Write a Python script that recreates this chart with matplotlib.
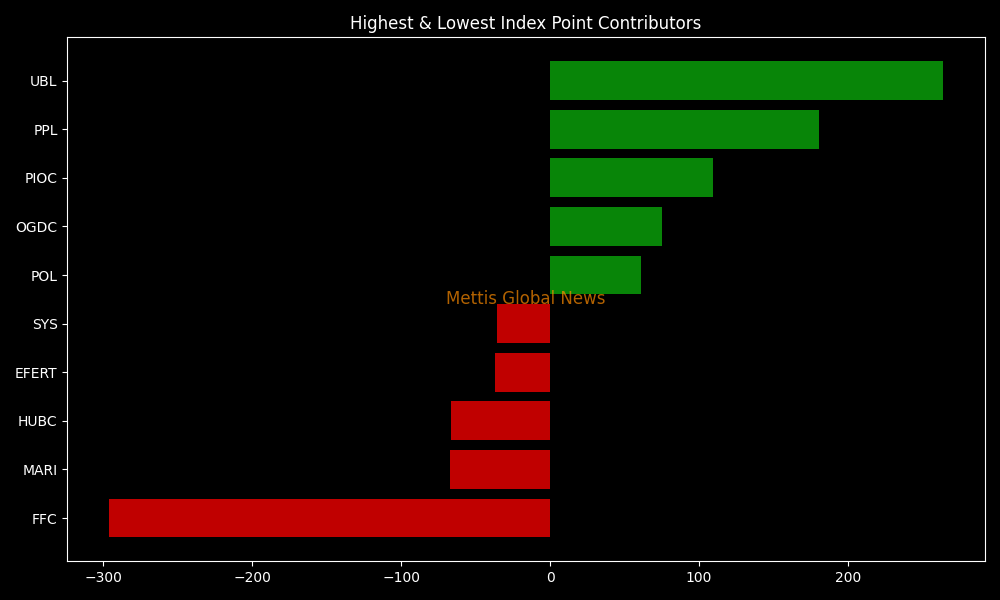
import matplotlib
matplotlib.use('Agg')
import matplotlib.pyplot as plt

# Index point contributors (top to bottom as shown)
symbols = ['UBL', 'PPL', 'PIOC', 'OGDC', 'POL', 'SYS', 'EFERT', 'HUBC', 'MARI', 'FFC']
points = [264, 180.5, 109.5, 75.2, 61.1, -35.6, -36.9, -66.4, -67.1, -296]

plt.style.use('dark_background')


def main():
    fig, ax = plt.subplots(figsize=(10, 6), dpi=100)

    colors = ['#088508' if v > 0 else '#c00000' for v in points]
    ax.barh(symbols, points, color=colors)
    ax.invert_yaxis()

    ax.set_title('Highest & Lowest Index Point Contributors')
    ax.text(0.5, 0.5, 'Mettis Global News', transform=ax.transAxes,
            ha='center', va='center', fontsize=12, color='darkorange', alpha=0.7)

    fig.tight_layout()
    fig.savefig('out.png', dpi=100)
    plt.close(fig)


if __name__ == "__main__":
    main()
